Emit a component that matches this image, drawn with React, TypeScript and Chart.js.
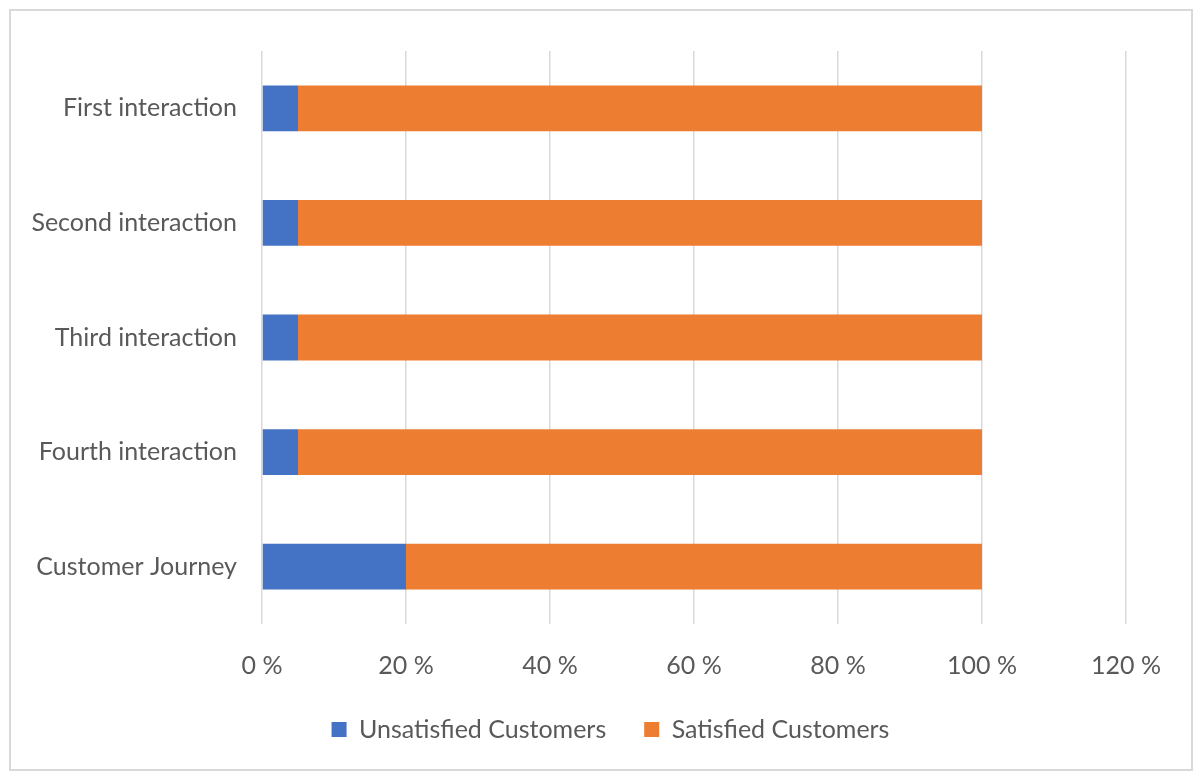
import React, { useEffect, useRef } from "react";
import { Chart, registerables } from "chart.js";

Chart.register(...registerables);

const categories = ["First interaction", "Second interaction", "Third interaction", "Fourth interaction", "Customer Journey"];
const unsatisfied = [5, 5, 5, 5, 20];
const satisfied = [95, 95, 95, 95, 80];
const seriesNames = ["Unsatisfied Customers", "Satisfied Customers"];
const xMax = 120;
const xStep = 20;

const FONT = "Lato, 'Open Sans', sans-serif";
const TEXT = "#595959";

const legendShift = {
  id: "legendShift",
  afterLayout(chart: any) {
    const lg = chart.legend;
    if (lg) {
      lg.left += 42;
      lg.right += 42;
    }
  },
};

export default function App() {
  const ref = useRef<HTMLCanvasElement | null>(null);
  useEffect(() => {
    if (!ref.current) return;
    const chart = new Chart(ref.current, {
      type: "bar",
      data: {
        labels: categories,
        datasets: [
          { label: seriesNames[0], data: unsatisfied, backgroundColor: "#4472C4", borderWidth: 0 },
          { label: seriesNames[1], data: satisfied, backgroundColor: "#ED7D31", borderWidth: 0 },
        ],
      },
      plugins: [legendShift],
      options: {
        indexAxis: "y",
        animation: false,
        responsive: false,
        maintainAspectRatio: false,
        datasets: { bar: { categoryPercentage: 0.8, barPercentage: 0.5 } },
        layout: { padding: { left: 0, right: 65, top: 35, bottom: 17 } },
        plugins: {
          tooltip: { enabled: false },
          legend: {
            position: "bottom",
            labels: {
              boxWidth: 15,
              boxHeight: 15,
              padding: 38,
              color: TEXT,
              font: { family: FONT, size: 25 },
            },
          },
        },
        scales: {
          x: {
            stacked: true,
            min: 0,
            max: xMax,
            border: { display: false },
            grid: { color: "#d9d9d9", lineWidth: 1.5, drawTicks: false },
            ticks: {
              stepSize: xStep,
              padding: 27,
              color: TEXT,
              font: { family: FONT, size: 25 },
              callback: (v: any) => `${v} %`,
            },
            afterFit: (s: any) => { s.height = 55; },
          },
          y: {
            stacked: true,
            border: { display: false },
            grid: { display: false, drawTicks: false },
            ticks: { padding: 25, color: TEXT, font: { family: FONT, size: 25 } },
            afterFit: (s: any) => { s.width = 251; },
          },
        },
      },
    });
    return () => chart.destroy();
  }, []);
  return (
    <div
      style={{
        position: "absolute",
        left: 9,
        top: 9,
        width: 1184,
        height: 762,
        border: "2px solid #d9d9d9",
        boxSizing: "border-box",
        background: "#fff",
      }}
    >
      <canvas ref={ref} width={1180} height={758} style={{ display: "block" }} />
    </div>
  );
}
